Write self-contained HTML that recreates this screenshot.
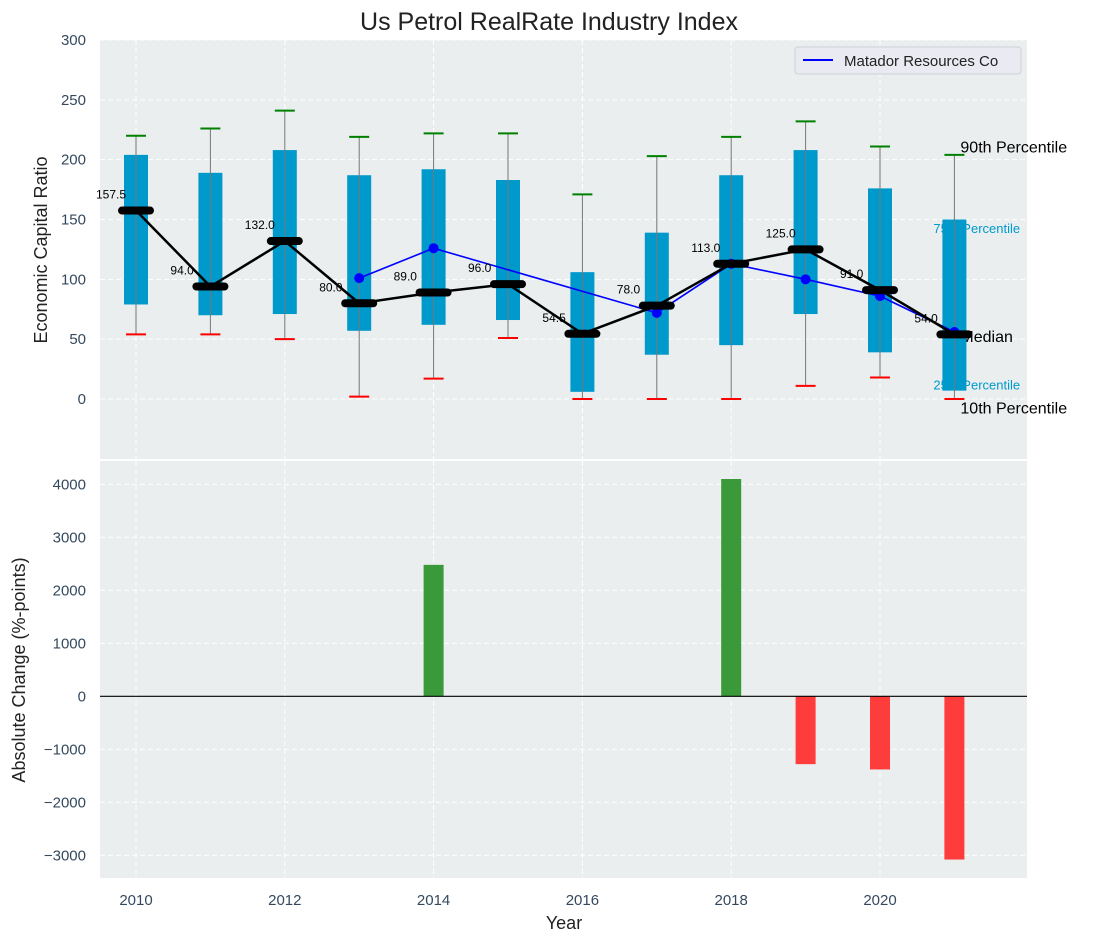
<!DOCTYPE html>
<html><head><meta charset="utf-8"><style>
body{margin:0;background:#fff;}
svg{display:block;font-family:"Liberation Sans","DejaVu Sans",sans-serif;}
.tick{fill:#34495e;font-size:15px;}
</style></head><body>
<svg id="chart" width="1098" height="942" xmlns="http://www.w3.org/2000/svg">
<text x="549" y="30" text-anchor="middle" font-size="25" fill="#222">Us Petrol RealRate Industry Index</text>
<rect x="100" y="40" width="927" height="419" fill="#eaeeee"/>
<rect x="100" y="461" width="927" height="417" fill="#eaeeee"/>
<g id="g1"></g>
<g id="g2"></g>
<text transform="translate(47,250) rotate(-90)" text-anchor="middle" font-size="18" fill="#222">Economic Capital Ratio</text>
<text transform="translate(25,670) rotate(-90)" text-anchor="middle" font-size="18" fill="#222">Absolute Change (%-points)</text>
<text x="564" y="929" text-anchor="middle" font-size="18" fill="#222">Year</text>
<g>
<rect x="795" y="47" width="226" height="27" rx="3" fill="#eaeaf2" stroke="#d0d0d8"/>
<line x1="803" y1="60" x2="833" y2="60" stroke="#0000ff" stroke-width="2"/>
<text x="844" y="66" font-size="15" fill="#222">Matador Resources Co</text>
</g>
</svg>
<script>
const years=[2010,2011,2012,2013,2014,2015,2016,2017,2018,2019,2020,2021];
const p90=[220,226,241,219,222,222,171,203,219,232,211,204];
const p75=[204,189,208,187,192,183,106,139,187,208,176,150];
const p25=[79,70,71,57,62,66,6,37,45,71,39,7];
const p10=[54,54,50,2,17,51,0,0,0,11,18,0];
const medians=[157.5,94,132,80,89,96,54.5,78,113,125,91,54];
const companyYears=[2013,2014,2017,2018,2019,2020,2021];
const companyVals=[101,126,72,113,100,86,56];
const barYears=[2014,2018,2019,2020,2021];
const barVals=[2480,4100,-1280,-1380,-3080];
const yTicks1=[0,50,100,150,200,250,300];
const yTicks2=[-3000,-2000,-1000,0,1000,2000,3000,4000];
const xTicks=[2010,2012,2014,2016,2018,2020];

const NS="http://www.w3.org/2000/svg";
const X=v=>136+(v-2010)*74.4;
const Y1=v=>399-v*1.1967;
const Y2=v=>696.3-v*0.0530;
function mk(p,tag,a,txt){const e=document.createElementNS(NS,tag);for(const k in a)e.setAttribute(k,a[k]);if(txt!==undefined)e.textContent=txt;p.appendChild(e);return e;}
const g1=document.getElementById('g1'),g2=document.getElementById('g2');
for(const t of yTicks1){let l=mk(g1,'line',{x1:100,x2:1027,y1:Y1(t),y2:Y1(t),stroke:'#fff','stroke-dasharray':'5,3'});


let tx=mk(g1,'text',{x:86,y:Y1(t)+5,'text-anchor':'end',class:'tick'},t);

}
for(const t of yTicks2){let l=mk(g2,'line',{x1:100,x2:1027,y1:Y2(t),y2:Y2(t),stroke:'#fff','stroke-dasharray':'5,3'});


let tx=mk(g2,'text',{x:86,y:Y2(t)+5,'text-anchor':'end',class:'tick'},(t<0?'\u2212'+(-t):t));

}
for(const t of xTicks){for(const [g,a,b] of [[g1,40,459],[g2,461,878]]){let l=mk(g,'line',{x1:X(t),x2:X(t),y1:a,y2:b,stroke:'#fff','stroke-dasharray':'5,3'});

}
let tx=mk(g2,'text',{x:X(t),y:905,'text-anchor':'middle',class:'tick'},t);

}
const lx=X(2021)+6;
for(const [txt,v,c,fs,nm] of [['90th Percentile',210,'#000',16,'p90-annotation'],['75th Percentile',143,'#0099cc',13,'p75-annotation'],['Median',52,'#000',16,'median-annotation'],['25th Percentile',12,'#0099cc',13,'p25-annotation'],['10th Percentile',-8,'#000',16,'p10-annotation']]){
 let t=mk(g1,'text',{x:(fs==16?lx:lx-27),y:Y1(v)+5,'font-size':fs,fill:c},txt);
 
 }
years.forEach((yr,i)=>{const x=X(yr);
 let b=mk(g1,'rect',{x:x-12,y:Y1(p75[i]),width:24,height:Y1(p25[i])-Y1(p75[i]),fill:'#0099cc'});
 
 
 let w=mk(g1,'line',{x1:x,x2:x,y1:Y1(p90[i]),y2:Y1(p10[i]),stroke:'#777','stroke-width':1});
 
 
 let tg=mk(g1,'line',{x1:x-10,x2:x+10,y1:Y1(p90[i]),y2:Y1(p90[i]),stroke:'#008000','stroke-width':2});
 
 
 let tr=mk(g1,'line',{x1:x-10,x2:x+10,y1:Y1(p10[i]),y2:Y1(p10[i]),stroke:'#ff0000','stroke-width':2});
 
 
});
let cp=mk(g1,'polyline',{points:companyYears.map((y,i)=>X(y)+','+Y1(companyVals[i])).join(' '),fill:'none',stroke:'#0000ff','stroke-width':1.6});


companyYears.forEach((y,i)=>{let c=mk(g1,'circle',{cx:X(y),cy:Y1(companyVals[i]),r:5,fill:'#0000ff'});

});
let ml=mk(g1,'polyline',{points:years.map((y,i)=>X(y)+','+Y1(medians[i])).join(' '),fill:'none',stroke:'#000','stroke-width':2.5});


years.forEach((y,i)=>{let m=mk(g1,'line',{x1:X(y)-14,x2:X(y)+14,y1:Y1(medians[i]),y2:Y1(medians[i]),stroke:'#000','stroke-width':8,'stroke-linecap':'round'});


let t=mk(g1,'text',{x:X(y)-40,y:Y1(medians[i])-12,'font-size':12,fill:'#000'},medians[i].toFixed(1));

});
barYears.forEach((y,i)=>{const v=barVals[i];const top=Math.min(Y2(v),Y2(0));
 let r=mk(g2,'rect',{x:X(y)-10,y:top,width:20,height:Math.abs(Y2(v)-Y2(0)),fill:v>=0?'#3a9a3a':'#ff3c3c'});
 
 });
let z=mk(g2,'line',{x1:100,x2:1027,y1:Y2(0),y2:Y2(0),stroke:'#000','stroke-width':1.2});


</script>
</body></html>
